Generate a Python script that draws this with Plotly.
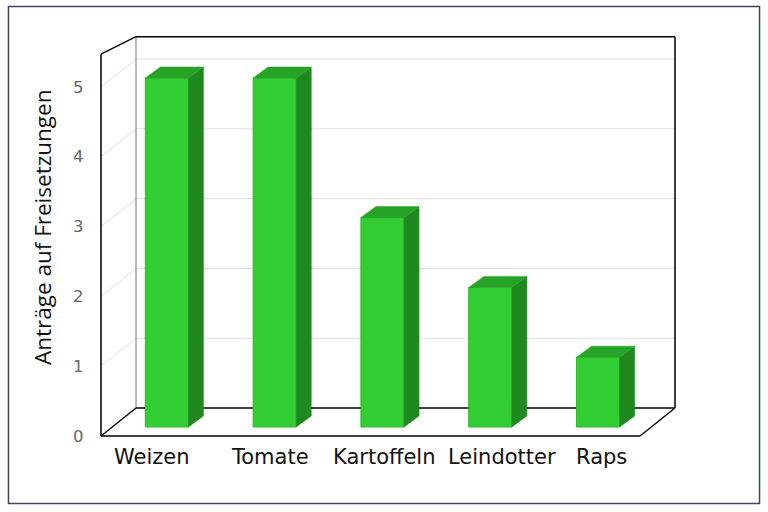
import plotly.graph_objects as go

# data
crops = ['Weizen', 'Tomate', 'Kartoffeln', 'Leindotter', 'Raps']
antraege = [5, 5, 3, 2, 1]
y_ticks = [0, 1, 2, 3, 4, 5]
y_title = 'Anträge auf Freisetzungen'

W, H = 768, 512

# pixel scale of the fake 3d box (bar plane is the reference plane)
ux, uy = 107.8, 69.8          # px per category / px per unit
ox, oy = 166.9, 427.0         # pixel position of (0, 0) in the bar plane
x_rng = [(0 - ox) / ux, (W - ox) / ux]
y_rng = [(oy - H) / uy, oy / uy]

# depth offsets (in axis units)
dxf, dyf = (101 - 113) / ux, (427 - 436) / uy   # front plane
dxb, dyb = (136 - 113) / ux, (427 - 408) / uy   # back wall
front_top, back_top = 5.47, 5.32
bar_w = 0.4
bar_dx, bar_dy = 15 / ux, 11 / uy

c_front = '#32CD32'
c_top = '#27A427'
c_side = '#1F891F'

# label nudges (px) so the category names sit like in the original
label_shift = [-15, -5, 1.5, 12, 3.5]

fig = go.Figure()

n = len(crops)
idx = list(range(n))
left, right = -0.5, n - 0.5

# side and top faces of the bars
for i, v in zip(idx, antraege):
    xl, xr = i - bar_w / 2, i + bar_w / 2
    fig.add_trace(go.Scatter(
        x=[xr, xr + bar_dx, xr + bar_dx, xr, xr],
        y=[0, bar_dy, v + bar_dy, v, 0],
        fill='toself', fillcolor=c_side, mode='lines',
        line=dict(color=c_side, width=0.5), hoverinfo='skip', showlegend=False))
    fig.add_trace(go.Scatter(
        x=[xl, xr, xr + bar_dx, xl + bar_dx, xl],
        y=[v, v, v + bar_dy, v + bar_dy, v],
        fill='toself', fillcolor=c_top, mode='lines',
        line=dict(color=c_top, width=0.5), hoverinfo='skip', showlegend=False))

# front faces
fig.add_trace(go.Bar(
    x=idx, y=antraege, base=0, width=bar_w,
    marker=dict(color=c_front, line=dict(color='#2DB82D', width=1)),
    hovertext=crops, hoverinfo='text+y', showlegend=False))

shapes = []


def seg(x0, y0, x1, y1, color='#000000', width=1.5):
    shapes.append(dict(type='line', xref='x', yref='y', x0=x0, y0=y0, x1=x1, y1=y1,
                       line=dict(color=color, width=width), layer='below'))


# grid lines on back wall and left wall
for v in y_ticks[1:]:
    seg(left + dxb, v + dyb, right + dxb, v + dyb, '#DDDDDD', 1)
    seg(left + dxf, v + dyf, left + dxb, v + dyb, '#DDDDDD', 1)

# back wall
seg(left + dxb, dyb, left + dxb, back_top + dyb, '#A0A0A0', 1.5)
seg(left + dxb, back_top + dyb, right + dxb, back_top + dyb)
seg(right + dxb, dyb, right + dxb, back_top + dyb)
seg(left + dxb, dyb, right + dxb, dyb)
# floor
seg(left + dxf, dyf, right + dxf, dyf)
seg(left + dxf, dyf, left + dxb, dyb)
seg(right + dxf, dyf, right + dxb, dyb)
# left wall
seg(left + dxf, dyf, left + dxf, front_top + dyf)
seg(left + dxf, front_top + dyf, left + dxb, back_top + dyb)

# outer frame
shapes.append(dict(type='rect', xref='paper', yref='paper',
                   x0=8.5 / W, y0=1 - 503.5 / H, x1=759.5 / W, y1=1 - 6.5 / H,
                   line=dict(color='#3B4761', width=1.5)))

annotations = []
for v in y_ticks:
    annotations.append(dict(x=(86 - ox) / ux, y=v + dyf, xref='x', yref='y',
                            text=str(v), showarrow=False, xanchor='right', yanchor='middle',
                            font=dict(family='DejaVu Sans', size=16.5, color='#666666')))

for i, name in enumerate(crops):
    annotations.append(dict(x=i, y=(oy - 457) / uy, xref='x', yref='y',
                            xshift=label_shift[i],
                            text=name, showarrow=False, xanchor='center', yanchor='middle',
                            font=dict(family='DejaVu Sans', size=21, color='#111111')))

annotations.append(dict(x=42 / W, y=1 - 228 / H, xref='paper', yref='paper',
                        text=y_title, showarrow=False, textangle=-90,
                        xanchor='center', yanchor='middle',
                        font=dict(family='Open Sans', size=22.5, color='#111111')))

fig.update_layout(
    width=W, height=H,
    margin=dict(l=0, r=0, t=0, b=0),
    paper_bgcolor='white', plot_bgcolor='white',
    xaxis=dict(range=x_rng, visible=False, fixedrange=True),
    yaxis=dict(range=y_rng, visible=False, fixedrange=True),
    shapes=shapes, annotations=annotations,
    showlegend=False,
)

# drop the default 8px body margin so the figure fills the window exactly
fig.write_html('out.html', config={'displayModeBar': False},
               post_script="document.body.style.margin='0';")
